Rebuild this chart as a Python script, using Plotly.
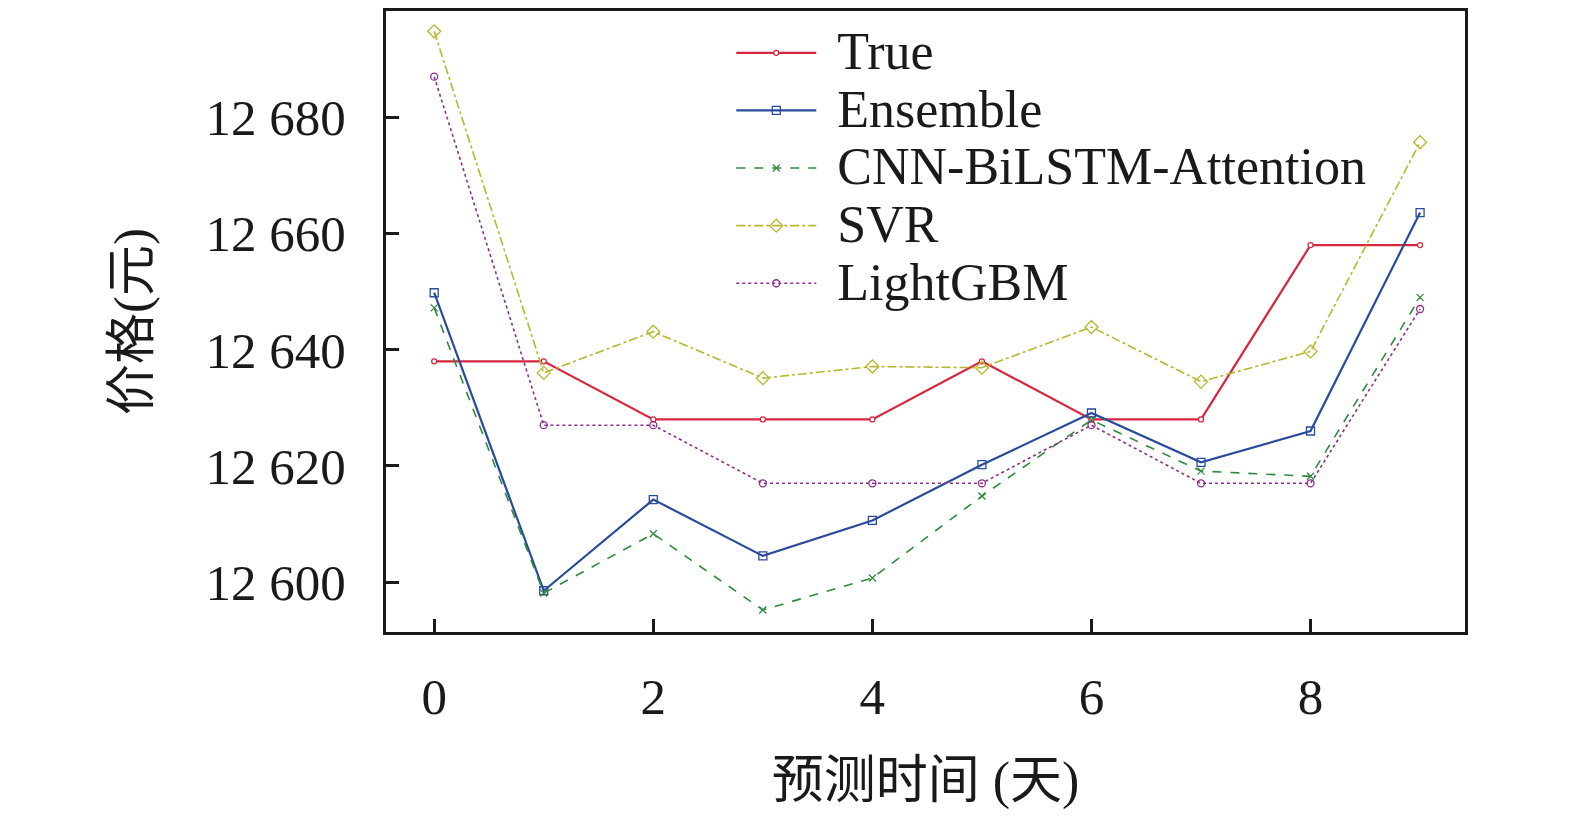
import plotly.graph_objects as go

# Prediction horizon (days) and price series
days = [0, 1, 2, 3, 4, 5, 6, 7, 8, 9]
true_price = [12638, 12638, 12628, 12628, 12628, 12638, 12628, 12628, 12658, 12658]
ensemble = [12649.8, 12598.5, 12614.2, 12604.5, 12610.6, 12620.2, 12629.1, 12620.6, 12626.0, 12663.6]
cnn_bilstm_att = [12647.2, 12598.1, 12608.3, 12595.2, 12600.7, 12614.8, 12627.9, 12619.1, 12618.2, 12649.0]
svr = [12694.8, 12636.0, 12643.1, 12635.1, 12637.1, 12636.9, 12643.9, 12634.5, 12639.7, 12675.7]
lightgbm = [12687, 12627, 12627, 12617, 12617, 12617, 12627, 12617, 12617, 12647]

series_names = ['True', 'Ensemble', 'CNN-BiLSTM-Attention', 'SVR', 'LightGBM']
y_tickvals = [12600, 12620, 12640, 12660, 12680]
y_ticktext = ['12 600', '12 620', '12 640', '12 660', '12 680']
x_tickvals = [0, 2, 4, 6, 8]

FONT = 'Liberation Serif, Times New Roman, Noto Sans CJK SC, serif'


def legend_label(name):
    # bigger text than the legend row spacing would normally allow,
    # plus a small gap between the line sample and the label
    return ('<span style="font-size:64px">\u00a0</span>'
            '<span style="font-size:52px">' + name + '</span>')


def build_chart():
    fig = go.Figure()

    styles = [
        (true_price, '#d7263d', 'white', 'solid', 2.2, 'circle', 5),
        (ensemble, '#2a4b9b', '#2a4b9b', 'solid', 2.2, 'square-open', 8),
        (cnn_bilstm_att, '#2f8a3c', '#2f8a3c', 'dash', 1.6, 'x-thin-open', 7),
        (svr, '#b5b82d', '#b5b82d', 'dashdot', 1.6, 'diamond-open', 10),
        (lightgbm, '#8a2f8e', '#8a2f8e', 'dot', 1.6, 'circle-open', 7),
    ]
    for name, (vals, color, fill, dash, width, symbol, size) in zip(series_names, styles):
        fig.add_trace(go.Scatter(
            x=days, y=vals, mode='lines+markers', name=legend_label(name),
            line=dict(color=color, dash=dash, width=width),
            marker=dict(symbol=symbol, size=size, color=fill,
                        line=dict(color=color, width=1.3)),
        ))

    fig.update_layout(
        width=1575, height=817,
        margin=dict(l=378, r=118, t=0, b=193),
        plot_bgcolor='white',
        paper_bgcolor='white',
        font=dict(family=FONT, size=50, color='#1a1a1a'),
        showlegend=True,
        legend=dict(
            x=0.32, y=0.987, xanchor='left', yanchor='top',
            bgcolor='rgba(0,0,0,0)', itemwidth=80,
            font=dict(family=FONT, size=42),
            tracegroupgap=0,
        ),
    )

    fig.update_xaxes(
        range=[-0.44, 9.41],
        tickmode='array', tickvals=x_tickvals,
        ticks='inside', ticklen=13, tickwidth=3, tickcolor='#1a1a1a',
        showline=True, linewidth=3, linecolor='#1a1a1a', mirror=True,
        showgrid=False, zeroline=False,
        ticklabelstandoff=18,
        tickfont=dict(family=FONT, size=51),
        title=dict(text='预测时间 (天)', font=dict(family=FONT, size=52), standoff=38),
    )

    fig.update_yaxes(
        range=[12591.4, 12698.3],
        tickmode='array', tickvals=y_tickvals, ticktext=y_ticktext,
        ticks='inside', ticklen=13, tickwidth=3, tickcolor='#1a1a1a',
        showline=True, linewidth=3, linecolor='#1a1a1a', mirror=True,
        showgrid=False, zeroline=False,
        ticklabelstandoff=27,
        tickfont=dict(family=FONT, size=51),
        title=dict(text='价格(元)', font=dict(family=FONT, size=51), standoff=40),
    )

    fig.write_html('out.html')


if __name__ == '__main__':
    build_chart()
